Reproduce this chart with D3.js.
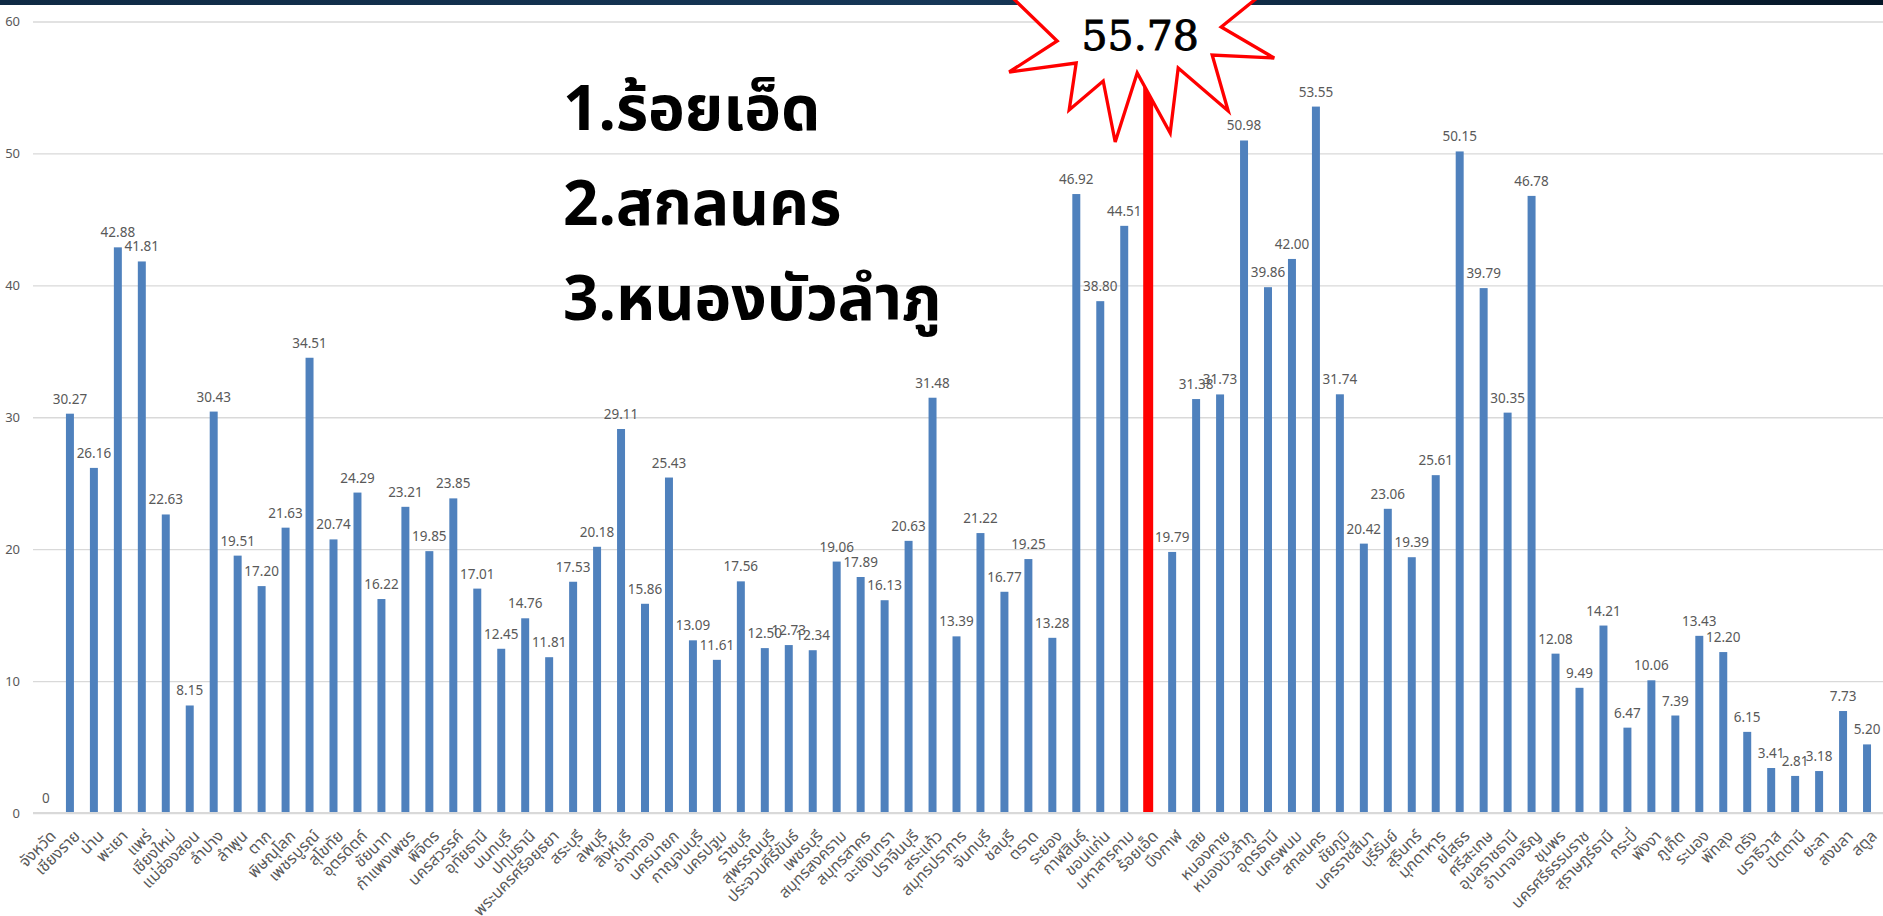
<!DOCTYPE html>
<html>
<head>
<meta charset="utf-8">
<script src="https://cdn.jsdelivr.net/npm/d3@7"></script>
<style>
  body { margin: 0; background: #fff; overflow: hidden; }
  text { font-family: "Noto Sans", "Noto Sans Thai", sans-serif; }
</style>
</head>
<body>
<svg id="chart" width="1883" height="916"></svg>
<script>
// provinces in the order they appear on the x axis
const provinces = ["จังหวัด","เชียงราย","น่าน","พะเยา","แพร่","เชียงใหม่","แม่ฮ่องสอน","ลำปาง","ลำพูน","ตาก",
  "พิษณุโลก","เพชรบูรณ์","สุโขทัย","อุตรดิตถ์","ชัยนาท","กำแพงเพชร","พิจิตร","นครสวรรค์","อุทัยธานี","นนทบุรี",
  "ปทุมธานี","พระนครศรีอยุธยา","สระบุรี","ลพบุรี","สิงห์บุรี","อ่างทอง","นครนายก","กาญจนบุรี","นครปฐม","ราชบุรี",
  "สุพรรณบุรี","ประจวบคีรีขันธ์","เพชรบุรี","สมุทรสงคราม","สมุทรสาคร","ฉะเชิงเทรา","ปราจีนบุรี","สระแก้ว","สมุทรปราการ","จันทบุรี",
  "ชลบุรี","ตราด","ระยอง","กาฬสินธุ์","ขอนแก่น","มหาสารคาม","ร้อยเอ็ด","บึงกาฬ","เลย","หนองคาย",
  "หนองบัวลำภู","อุดรธานี","นครพนม","สกลนคร","ชัยภูมิ","นครราชสีมา","บุรีรัมย์","สุรินทร์","มุกดาหาร","ยโสธร",
  "ศรีสะเกษ","อุบลราชธานี","อำนาจเจริญ","ชุมพร","นครศรีธรรมราช","สุราษฎร์ธานี","กระบี่","พังงา","ภูเก็ต","ระนอง",
  "พัทลุง","ตรัง","นราธิวาส","ปัตตานี","ยะลา","สงขลา","สตูล"];
const values = [0,30.27,26.16,42.88,41.81,22.63,8.15,30.43,19.51,17.20,
  21.63,34.51,20.74,24.29,16.22,23.21,19.85,23.85,17.01,12.45,
  14.76,11.81,17.53,20.18,29.11,15.86,25.43,13.09,11.61,17.56,
  12.50,12.73,12.34,19.06,17.89,16.13,20.63,31.48,13.39,21.22,
  16.77,19.25,13.28,46.92,38.80,44.51,55.78,19.79,31.38,31.73,
  50.98,39.86,42.00,53.55,31.74,20.42,23.06,19.39,25.61,50.15,
  39.79,30.35,46.78,12.08,9.49,14.21,6.47,10.06,7.39,13.43,
  12.20,6.15,3.41,2.81,3.18,7.73,5.20];
const highlight = "ร้อยเอ็ด";
const yTicks = [0,10,20,30,40,50,60];
const ranking = ["1.ร้อยเอ็ด","2.สกลนคร","3.หนองบัวลำภู"];

const width = 1883, height = 916;
const svg = d3.select("#chart");

const data = provinces.map((p,i)=>({name:p, value:values[i]}));

let x = d3.scaleBand()
    .domain(provinces)
    .range([34, 1879])
    .paddingInner(0.667)
    .paddingOuter(0.333);
let y = d3.scaleLinear()
    .domain([0, 60])
    .range([813, 21.5]);

// dark strip along the top
let grad = svg.append("defs").append("linearGradient").attr("id","band");
grad.append("stop").attr("offset","0%").attr("stop-color","#0f2a44");
grad.append("stop").attr("offset","50%").attr("stop-color","#163757");
grad.append("stop").attr("offset","100%").attr("stop-color","#051626");
svg.append("rect").attr("x",0).attr("y",0).attr("width",width).attr("height",5)
    .attr("fill","url(#band)");

// gridlines + y labels
let yAxis = d3.axisLeft(y).tickValues(yTicks).tickSize(-(width-33)).tickPadding(13);
let gy = svg.append("g").attr("transform","translate(33,0)").call(yAxis);
gy.select(".domain").remove();
gy.selectAll(".tick line").attr("stroke","#d9d9d9").attr("stroke-width",1.3);
gy.selectAll(".tick text").attr("fill","#595959").style("font-size","13px")
    .style("font-family","'Noto Sans', sans-serif");

// bars
svg.append("g").selectAll("rect").data(data).enter().append("rect")
    .attr("x",d=>d.name===highlight ? x(d.name)-1 : x(d.name))
    .attr("y",d=>y(d.value))
    .attr("width",d=>d.name===highlight ? x.bandwidth()+2 : x.bandwidth())
    .attr("height",d=>y(0)-y(d.value))
    .attr("fill",d=>d.name===highlight?"#ff0000":"#4f81bd");

// baseline
svg.append("line").attr("x1",33).attr("x2",width).attr("y1",y(0)).attr("y2",y(0))
    .attr("stroke","#d9d9d9").attr("stroke-width",2);

// value labels
svg.append("g").selectAll("text").data(data.filter(d=>d.name!==highlight)).enter().append("text")
    .attr("x",d=>x(d.name)+x.bandwidth()/2)
    .attr("y",d=>y(d.value)-10)
    .attr("text-anchor","middle")
    .attr("fill","#595959")
    .style("font-size","13.5px")
    .text(d=>d.value.toFixed(2).replace(/^0\.00$/,"0"));

// category labels
svg.append("g").selectAll("text").data(data).enter().append("text")
    .attr("transform",d=>`translate(${x(d.name)+x.bandwidth()/2+7},${y(0)+20}) rotate(-45)`)
    .attr("text-anchor","end")
    .attr("dy","0.35em")
    .attr("fill","#595959")
    .style("font-size","16px")
    .text(d=>d.name);

// ranking text
svg.append("g").selectAll("text").data(ranking).enter().append("text")
    .attr("x",563)
    .attr("y",(d,i)=>130+i*95)
    .attr("fill","#000")
    .style("font-size","62px")
    .style("font-weight","bold")
    .text(d=>d);

// starburst on the highlighted bar
let hi = data.find(d=>d.name===highlight);
let cx = x(hi.name)+x.bandwidth()/2-8, cy = 40;
let starPts = [[-146,-60],[-83,1],[-131,32],[-64,23],[-71,70],[-37,41],[-25,102],[-3,33],
  [30,93],[38,28],[88,71],[72,15],[134,18],[81,-13],[139,-60],[59,-48],[29,-100],[-1,-48],
  [-31,-100],[-61,-48]];
svg.append("polygon")
    .attr("points",starPts.map(p=>[cx+p[0],cy+p[1]].join(",")).join(" "))
    .attr("fill","#fff")
    .attr("stroke","#ff0000")
    .attr("stroke-width",3.3)
    .attr("stroke-linejoin","miter");
svg.append("text")
    .attr("x",cx).attr("y",50)
    .attr("text-anchor","middle")
    .attr("fill","#000")
    .attr("stroke","#000")
    .attr("stroke-width",0.9)
    .style("font-family","'DejaVu Serif', serif")
    .style("font-size","41px")
    .text(hi.value.toFixed(2));
</script>
</body>
</html>
